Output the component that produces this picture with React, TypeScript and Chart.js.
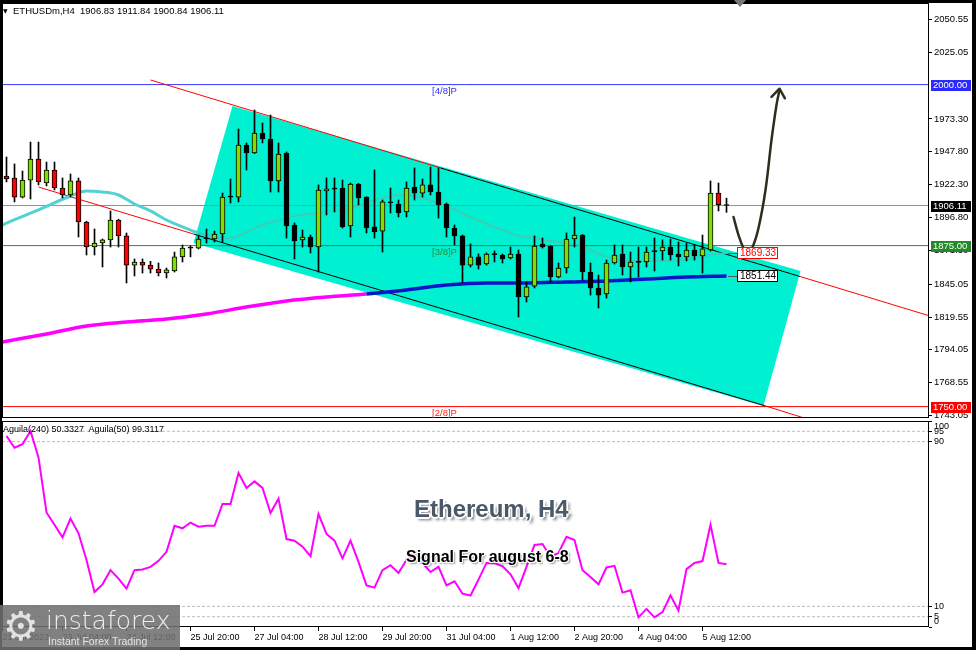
import { useEffect, useRef } from "react";
import { Chart, registerables } from "chart.js";

Chart.register(...registerables);

// ---------------- data ----------------
const openP = [
  1929.0, 1927.5, 1912.7, 1925.9, 1942.2, 1923.6, 1933.7, 1919.7, 1914.3, 1925.2,
  1893.3, 1873.9, 1877.0, 1879.4, 1894.9, 1882.5, 1859.9, 1862.3, 1859.9, 1856.8,
  1853.7, 1855.3, 1866.2, 1873.1, 1873.1, 1880.8, 1880.1, 1884.0, 1913.0, 1912.7,
  1953.1, 1946.9, 1962.4, 1957.8, 1925.2, 1946.9, 1891.0, 1879.4, 1881.7, 1873.9,
  1917.4, 1919.2, 1919.7, 1890.2, 1922.8, 1912.7, 1889.5, 1886.3, 1908.9, 1907.3,
  1901.1, 1920.5, 1915.8, 1922.1, 1916.6, 1907.3, 1888.7, 1882.5, 1859.9, 1866.2,
  1860.7, 1868.5, 1867.7, 1865.4, 1868.5, 1835.1, 1843.6, 1876.2, 1874.7, 1850.6,
  1857.6, 1880.1, 1883.2, 1854.5, 1842.1, 1837.4, 1861.5, 1868.5, 1858.4, 1862.5,
  1862.3, 1870.8, 1870.8, 1873.9, 1868.5, 1866.2, 1871.6, 1866.9, 1871.6, 1915.8,
  1906.83,
];
const highP = [
  1943.8, 1938.4, 1932.9, 1955.4, 1955.4, 1939.9, 1939.9, 1927.5, 1930.6, 1927.5,
  1893.9, 1887.9, 1880.1, 1901.9, 1895.5, 1884.8, 1864.6, 1864.6, 1862.8, 1861.5,
  1857.6, 1870.0, 1875.5, 1874.7, 1883.2, 1887.9, 1886.3, 1915.8, 1926.7, 1965.5,
  1954.7, 1980.3, 1970.2, 1976.4, 1954.7, 1947.7, 1892.6, 1887.1, 1883.2, 1922.1,
  1927.5, 1927.5, 1925.9, 1923.6, 1923.3, 1913.0, 1933.7, 1910.4, 1919.7, 1910.4,
  1924.4, 1935.3, 1926.7, 1936.0, 1935.3, 1908.1, 1891.0, 1883.2, 1876.3, 1868.5,
  1869.3, 1870.8, 1868.5, 1873.9, 1871.6, 1846.8, 1882.5, 1880.9, 1875.0, 1861.5,
  1884.8, 1897.2, 1883.6, 1861.5, 1852.2, 1863.8, 1875.5, 1875.5, 1870.0, 1873.9,
  1873.9, 1880.9, 1879.4, 1880.1, 1877.8, 1877.0, 1875.5, 1883.2, 1925.2, 1923.6,
  1911.84,
];
const lowP = [
  1924.4, 1908.9, 1912.0, 1911.2, 1922.1, 1921.3, 1918.2, 1912.0, 1912.7, 1881.7,
  1867.7, 1867.7, 1858.4, 1873.9, 1873.9, 1846.0, 1851.4, 1853.7, 1853.7, 1851.4,
  1849.9, 1854.5, 1862.3, 1866.2, 1872.4, 1877.0, 1877.8, 1877.8, 1908.1, 1908.9,
  1933.7, 1946.5, 1954.7, 1916.6, 1916.6, 1880.9, 1864.6, 1873.9, 1869.3, 1854.5,
  1898.8, 1901.1, 1888.7, 1881.7, 1906.5, 1884.8, 1880.9, 1870.0, 1900.3, 1897.2,
  1897.2, 1910.4, 1912.7, 1914.3, 1896.4, 1881.7, 1875.5, 1846.0, 1858.4, 1856.8,
  1859.9, 1862.3, 1861.5, 1864.6, 1819.6, 1831.2, 1842.1, 1873.1, 1846.8, 1849.9,
  1853.7, 1873.9, 1848.3, 1836.6, 1826.6, 1834.3, 1860.7, 1852.2, 1846.8, 1850.6,
  1858.4, 1855.3, 1863.8, 1863.8, 1859.2, 1863.1, 1863.8, 1853.7, 1870.8, 1901.9,
  1900.84,
];
const closeP = [
  1926.7, 1912.7, 1925.9, 1942.2, 1924.4, 1933.7, 1919.7, 1914.3, 1925.2, 1893.3,
  1873.9, 1877.0, 1879.4, 1894.9, 1882.5, 1859.9, 1862.3, 1859.9, 1856.8, 1853.7,
  1856.1, 1866.2, 1873.1, 1873.1, 1880.1, 1880.1, 1884.0, 1912.7, 1912.7, 1953.1,
  1946.9, 1962.4, 1957.8, 1925.2, 1946.1, 1890.2, 1878.6, 1881.7, 1873.9, 1918.2,
  1919.0, 1918.8, 1889.5, 1922.8, 1912.0, 1888.7, 1885.6, 1908.9, 1908.1, 1900.3,
  1919.7, 1915.8, 1922.1, 1916.6, 1906.5, 1888.7, 1882.5, 1859.9, 1866.2, 1859.9,
  1868.5, 1868.0, 1864.6, 1868.5, 1835.1, 1842.9, 1874.7, 1873.9, 1850.6, 1857.6,
  1880.1, 1883.2, 1854.5, 1842.1, 1836.6, 1861.5, 1867.7, 1858.4, 1862.3, 1862.0,
  1870.0, 1870.3, 1873.9, 1867.7, 1866.2, 1871.6, 1866.9, 1872.4, 1915.8, 1906.8,
  1906.11,
];

// moving averages (bar index, price)
const maFastX = [-0.5, 0, 4, 8, 10, 12, 14, 16, 18, 20, 22, 24, 26, 28, 30, 32, 34, 36, 38, 40, 42, 44,
  46, 48, 50, 52, 54, 56, 58, 60, 62, 64, 66, 68, 70, 72, 74, 76, 78, 80, 82, 84, 86, 88, 90];
const maFastY = [1891.0, 1892.5, 1902.7, 1913.5, 1917.4, 1916.6, 1914.3, 1907.3, 1901.9, 1894.9, 1889.5,
  1884.8, 1881.7, 1880.9, 1885.6, 1891.0, 1894.9, 1898.0, 1899.5, 1901.1, 1902.7, 1905.8, 1910.4, 1913.5,
  1914.3, 1912.0, 1908.1, 1902.7, 1897.2, 1891.8, 1887.1, 1882.5, 1880.9, 1878.6, 1877.0, 1874.7, 1868.5,
  1864.6, 1863.1, 1863.1, 1863.1, 1863.8, 1865.4, 1867.7, 1869.33];
const maSlowX = [-0.5, 5, 10, 15, 20, 25, 30, 35, 40, 45, 50, 55, 60, 65, 70, 75, 80, 85, 90];
const maSlowY = [1800.2, 1806.4, 1812.6, 1815.7, 1818.0, 1821.9, 1827.3, 1832.0, 1835.1, 1837.4, 1840.5,
  1844.4, 1846.0, 1846.0, 1846.8, 1847.5, 1849.1, 1850.6, 1851.44];

// Aguila indicator, one value per bar
const aguila = [
  92.7, 87.0, 88.7, 95.2, 82.3, 55.6, 49.6, 43.5, 52.6, 45.5,
  32.5, 17.0, 20.7, 27.6, 23.5, 18.6, 27.6, 27.9, 29.2, 32.1,
  36.5, 49.1, 47.9, 50.7, 48.7, 49.1, 49.1, 59.7, 59.7, 74.8,
  67.5, 70.7, 67.5, 55.3, 62.3, 42.7, 41.9, 39.0, 34.4, 54.8,
  45.2, 41.9, 33.3, 41.9, 31.6, 20.2, 19.1, 27.6, 30.0, 26.2,
  32.5, 34.9, 31.0, 26.7, 29.2, 20.2, 22.2, 16.2, 15.3, 23.0,
  31.1, 31.0, 29.5, 25.6, 18.9, 29.2, 39.8, 40.3, 34.1, 35.9,
  43.8, 42.2, 27.6, 24.3, 20.7, 28.9, 29.7, 16.7, 17.8, 4.7,
  8.8, 4.7, 7.2, 15.3, 8.0, 28.1, 31.1, 32.0, 49.6, 31.1, 30.5,
];

// channel (bar index, price)
const channelFill = [
  { x: 28.25, y: 1983.4 }, { x: 99.25, y: 1855.3 }, { x: 94.625, y: 1750.5 }, { x: 23.375, y: 1877.0 }, { x: 28.25, y: 1983.4 },
];
const upperLine = [{ x: 18, y: 2003.6 }, { x: 54.25, y: 1935.3 }, { x: 99.25, y: 1850.9 }, { x: 115.3, y: 1820.6 }];
const upperLineColors = ["#ff0000", "#000000", "#ff0000"];
const lowerLine = [{ x: 4, y: 1920.5 }, { x: 23.375, y: 1884.0 }, { x: 94.875, y: 1750.5 }, { x: 103, y: 1734.8 }];
const lowerLineColors = ["#ff0000", "#000000", "#ff0000"];

// projected arrow (bar index, price)
const arrowPath = [
  { x: 90.875, y: 1897.2 }, { x: 91.5, y: 1883.2 }, { x: 92.125, y: 1873.1 }, { x: 92.625, y: 1870.0 },
  { x: 93.25, y: 1873.9 }, { x: 94.0, y: 1888.7 }, { x: 94.875, y: 1918.2 }, { x: 95.625, y: 1957.0 },
  { x: 96.25, y: 1984.2 }, { x: 96.625, y: 1995.8 },
];
const arrowHead = [{ x: 95.625, y: 1990.4 }, { x: 96.625, y: 1996.8 }, { x: 97.3, y: 1989.4 }];

// horizontal levels
const levelValues = [2000, 1906.11, 1875, 1750];
const levelColors = ["#3636ff", "#8494a4", "#2e8b2e", "#ff0000"];
const levelTagText = ["2000.00", "1906.11", "1875.00", "1750.00"];
const levelTagBg = ["#2a2aff", "#000000", "#23892a", "#ff0000"];
const murreyLabels = ["[4/8]P", "[3/8]P", "[2/8]P"];
const murreyValues = [2000, 1875, 1750];
const murreyColors = ["#3030ff", "#2e8b2e", "#ff2020"];

const yTicks = [2050.55, 2025.05, 1973.3, 1947.8, 1922.3, 1896.8, 1871.3, 1845.05, 1819.55, 1794.05, 1768.55, 1743.05];
const xTickBars = [-0.5, 7, 15, 23, 31, 39, 47, 55, 63, 71, 79, 87];
const xTickLabels = ["21 Jul 2023", "23 Jul 04:00", "24 Jul 12:00", "25 Jul 20:00", "27 Jul 04:00", "28 Jul 12:00",
  "29 Jul 20:00", "31 Jul 04:00", "1 Aug 12:00", "2 Aug 20:00", "4 Aug 04:00", "5 Aug 12:00"];
const indTicks = [0, 5, 10, 90, 95, 100];
const indLevels = [5, 10, 90, 95];

const valueTags = [
  { value: 1869.33, text: "1869.33", color: "#ff0000" },
  { value: 1851.44, text: "1851.44", color: "#000000" },
];

// ---------------- style ----------------
const X_MIN = -0.5625;
const X_MAX = 115.3125;
const Y_MIN = 1741.15;
const Y_MAX = 2063.36;
const CHANNEL_FIRST = 23;
const CHANNEL_LAST = 88;
const FAST_IN_FROM = 24;
const SLOW_IN_FROM = 45;
const LAST_BAR = 90;
const LABEL_BAR = 53.2;
const GREEN = "#7ee000";
const RED = "#ff0000";
const CYAN = "#00f0d2";
const FONT = '"Liberation Sans", Arial, sans-serif';

Chart.defaults.font.family = FONT;
Chart.defaults.font.size = 9;
Chart.defaults.color = "#000";

const bars = openP.map((_, i) => i);

function bodyColor(i: number) {
  const d = closeP[i] - openP[i];
  if (Math.abs(d) < 0.8) return "#000000";
  if (d > 0) return GREEN;
  return i >= CHANNEL_FIRST && i <= CHANNEL_LAST ? "#000000" : RED;
}

function hLine(v: number) {
  return [{ x: X_MIN, y: v }, { x: X_MAX, y: v }];
}

const mainOverlay = {
  id: "mainOverlay",
  afterDraw(chart: any) {
    const { ctx, chartArea: a, scales } = chart;
    const x = scales.x;
    const y = scales.y;
    ctx.save();
    ctx.strokeStyle = "#000";
    ctx.lineWidth = 1;
    ctx.strokeRect(a.left + 0.5, a.top + 0.5, a.right - a.left - 1, a.bottom - a.top - 1);

    ctx.font = `9.5px ${FONT}`;
    ctx.textBaseline = "middle";
    ctx.textAlign = "left";
    murreyLabels.forEach((t, k) => {
      ctx.fillStyle = murreyColors[k];
      ctx.fillText(t, x.getPixelForValue(LABEL_BAR), y.getPixelForValue(murreyValues[k]) + 7);
    });

    // value tags at the end of the moving averages
    const px = Math.round(x.getPixelForValue(LAST_BAR));
    ctx.font = `10px ${FONT}`;
    valueTags.forEach((t) => {
      const py = Math.round(y.getPixelForValue(t.value));
      ctx.strokeStyle = "#555";
      ctx.beginPath();
      ctx.moveTo(px + 1, py + 0.5);
      ctx.lineTo(px + 10, py + 0.5);
      ctx.stroke();
      ctx.fillStyle = "#fff";
      ctx.fillRect(px + 10, py - 6, 41, 12);
      ctx.strokeStyle = t.color;
      ctx.strokeRect(px + 10.5, py - 5.5, 40, 11);
      ctx.fillStyle = t.color;
      ctx.fillText(t.text, px + 13, py + 0.5);
    });

    // price tags on the axis
    ctx.font = `9.5px ${FONT}`;
    levelValues.forEach((v, k) => {
      const py = Math.round(y.getPixelForValue(v));
      ctx.fillStyle = levelTagBg[k];
      ctx.fillRect(a.right + 2, py - 5, 40, 11);
      ctx.fillStyle = "#fff";
      ctx.fillText(levelTagText[k], a.right + 4, py + 0.5);
    });
    ctx.restore();
  },
};

const indOverlay = {
  id: "indOverlay",
  afterDraw(chart: any) {
    const { ctx, chartArea: a, scales } = chart;
    const y = scales.y;
    ctx.save();
    ctx.strokeStyle = "#000";
    ctx.lineWidth = 1;
    ctx.strokeRect(a.left + 0.5, a.top + 0.5, a.right - a.left - 1, a.bottom - a.top - 1);
    ctx.font = `9px ${FONT}`;
    ctx.fillStyle = "#000";
    ctx.textBaseline = "middle";
    ctx.textAlign = "left";
    ctx.fillText("100", a.right + 5, y.getPixelForValue(100) + 6);
    ctx.fillText("0", a.right + 5, y.getPixelForValue(0) - 5);
    ctx.restore();
  },
};

function mainConfig(): any {
  const lineBase = { type: "line", pointRadius: 0, borderWidth: 1, fill: false, tension: 0 };
  const datasets: any[] = [
    {
      ...lineBase, data: channelFill, fill: "shape", backgroundColor: CYAN, borderWidth: 0,
      borderColor: "rgba(0,0,0,0)", order: 20,
    },
    ...levelValues.map((v, k) => ({ ...lineBase, data: hLine(v), borderColor: levelColors[k], order: 15 })),
    {
      ...lineBase, data: upperLine, borderColor: "#ff0000", order: 14,
      segment: { borderColor: (c: any) => upperLineColors[c.p0DataIndex] },
    },
    {
      ...lineBase, data: lowerLine, borderColor: "#ff0000", order: 14,
      segment: { borderColor: (c: any) => lowerLineColors[c.p0DataIndex] },
    },
    {
      ...lineBase, data: maFastX.map((x, i) => ({ x, y: maFastY[i] })), borderWidth: 3,
      cubicInterpolationMode: "monotone", borderColor: "#52d2d2", order: 12,
      segment: {
        borderColor: (c: any) => (maFastX[c.p0DataIndex] >= FAST_IN_FROM ? "#3ccdb4" : "#52d2d2"),
        borderWidth: (c: any) => (maFastX[c.p0DataIndex] >= FAST_IN_FROM ? 2 : 3),
      },
    },
    {
      ...lineBase, data: maSlowX.map((x, i) => ({ x, y: maSlowY[i] })), borderWidth: 3.5,
      cubicInterpolationMode: "monotone", borderColor: "#ff00ff", order: 11,
      segment: { borderColor: (c: any) => (maSlowX[c.p0DataIndex] >= SLOW_IN_FROM ? "#0a14c8" : "#ff00ff") },
    },
    {
      type: "bar", data: bars.map((i) => ({ x: i, y: [lowP[i], highP[i]] })), backgroundColor: "#000",
      borderWidth: 0, barThickness: 1, grouped: false, order: 6,
    },
    {
      type: "bar", data: bars.map((i) => ({ x: i, y: [openP[i], closeP[i]] })),
      backgroundColor: bars.map((i) => bodyColor(i)), borderColor: "#000", borderWidth: 1,
      borderSkipped: false, barThickness: 5, grouped: false, minBarLength: 1, order: 5,
    },
    {
      ...lineBase, data: arrowPath, borderColor: "#2e2e1e", borderWidth: 2.5, tension: 0.4,
      borderCapStyle: "round", order: 1,
    },
    {
      ...lineBase, data: arrowHead, borderColor: "#2e2e1e", borderWidth: 2.5, borderCapStyle: "round",
      borderJoinStyle: "round", order: 1,
    },
  ];
  return {
    type: "bar",
    data: { datasets },
    options: {
      responsive: false, animation: false, devicePixelRatio: 1, events: [],
      layout: { padding: { left: 2, top: 3, bottom: 2, right: 0 } },
      plugins: { legend: { display: false }, tooltip: { enabled: false } },
      scales: {
        x: { type: "linear", display: false, min: X_MIN, max: X_MAX, offset: false, grid: { offset: false } },
        y: {
          type: "linear", position: "right", min: Y_MIN, max: Y_MAX, beginAtZero: false,
          afterBuildTicks: (s: any) => { s.ticks = yTicks.map((v) => ({ value: v })); },
          afterFit: (s: any) => { s.width = 47; s.paddingTop = 0; s.paddingBottom = 0; },
          ticks: { callback: (v: any) => Number(v).toFixed(2), color: "#000", padding: 2, autoSkip: false, font: { size: 9.5 } },
          grid: { display: true, drawOnChartArea: false, drawTicks: true, tickLength: 3, tickColor: "#000", color: "#000" },
          border: { display: false },
        },
      },
    },
    plugins: [mainOverlay],
  };
}

function indConfig(): any {
  const datasets: any[] = [
    ...indLevels.map((v) => ({
      type: "line", data: hLine(v), borderColor: "#bdbdbd", borderWidth: 1, borderDash: [3, 2],
      pointRadius: 0, fill: false, order: 5,
    })),
    {
      type: "line", data: bars.map((i) => ({ x: i, y: aguila[i] })), borderColor: "#ff00ff", borderWidth: 2,
      pointRadius: 0, fill: false, tension: 0, order: 1,
    },
  ];
  return {
    type: "line",
    data: { datasets },
    options: {
      responsive: false, animation: false, devicePixelRatio: 1, events: [],
      layout: { padding: { left: 2, top: 11, bottom: 0, right: 0 } },
      plugins: { legend: { display: false }, tooltip: { enabled: false } },
      scales: {
        x: {
          type: "linear", min: X_MIN, max: X_MAX, offset: false, bounds: "data",
          afterBuildTicks: (s: any) => { s.ticks = xTickBars.map((v) => ({ value: v })); },
          afterFit: (s: any) => { s.height = 23; s.paddingLeft = 0; s.paddingRight = 0; },
          ticks: {
            callback: (_v: any, i: number) => xTickLabels[i], align: "start", autoSkip: false,
            maxRotation: 0, minRotation: 0, padding: 1, color: "#000", font: { size: 9 },
          },
          grid: { display: true, drawOnChartArea: false, drawTicks: true, tickLength: 4, tickColor: "#000", offset: false },
          border: { display: false },
        },
        y: {
          type: "linear", position: "right", min: 0, max: 100,
          afterBuildTicks: (s: any) => { s.ticks = indTicks.map((v) => ({ value: v })); },
          afterFit: (s: any) => { s.width = 47; s.paddingTop = 0; s.paddingBottom = 0; },
          ticks: { callback: (v: any) => (v === 0 || v === 100 ? "" : String(v)), color: "#000", padding: 2, autoSkip: false, font: { size: 9 } },
          grid: { display: true, drawOnChartArea: false, drawTicks: true, tickLength: 3, tickColor: "#000", color: "#000" },
          border: { display: false },
        },
      },
    },
    plugins: [indOverlay],
  };
}

export default function App() {
  const mainRef = useRef<HTMLCanvasElement>(null);
  const indRef = useRef<HTMLCanvasElement>(null);

  useEffect(() => {
    const c1 = new Chart(mainRef.current as HTMLCanvasElement, mainConfig());
    const c2 = new Chart(indRef.current as HTMLCanvasElement, indConfig());
    return () => {
      c1.destroy();
      c2.destroy();
    };
  }, []);

  const abs: any = { position: "absolute" };
  return (
    <div style={{ position: "absolute", left: 0, top: 0, width: 976, height: 650, background: "#fff", overflow: "hidden", fontFamily: FONT }}>
      <canvas ref={mainRef} width={976} height={420} style={{ ...abs, left: 0, top: 0 }} />
      <canvas ref={indRef} width={976} height={240} style={{ ...abs, left: 0, top: 410 }} />

      <div style={{ ...abs, left: 3, top: 5, fontSize: 6, lineHeight: "12px", fontFamily: "DejaVu Sans" }}>▼</div>
      <div style={{ ...abs, left: 13, top: 5, fontSize: 9.5, lineHeight: "12px", whiteSpace: "pre", color: "#000" }}>
        {"ETHUSDm,H4  1906.83 1911.84 1900.84 1906.11"}
      </div>
      <div style={{ ...abs, left: 3, top: 423, fontSize: 9, lineHeight: "12px", whiteSpace: "pre", color: "#000" }}>
        {"Aguila(240) 50.3327  Aguila(50) 99.3117"}
      </div>

      <div
        style={{
          ...abs, left: 414, top: 495, fontSize: 24, lineHeight: "28px", fontWeight: "bold", color: "#4a5968", whiteSpace: "pre",
          textShadow: "-1px -1px 0 #fff, 1px -1px 0 #fff, -1px 1px 0 #fff, 1px 1px 0 #fff, 0 2px 0 #fff, 2px 0 0 #fff, 3px 3px 3px rgba(0,0,0,0.55)",
        }}
      >
        Ethereum, H4
      </div>
      <div
        style={{
          ...abs, left: 406, top: 547, fontSize: 16, lineHeight: "20px", fontWeight: "bold", color: "#000", whiteSpace: "pre",
          textShadow: "-1px -1px 0 #fff, 1px -1px 0 #fff, -1px 1px 0 #fff, 1px 1px 0 #fff, 2px 2px 2px rgba(0,0,0,0.45)",
        }}
      >
        Signal For august 6-8
      </div>

      <div style={{ ...abs, left: 734, top: 0, width: 0, height: 0, borderLeft: "6px solid transparent", borderRight: "6px solid transparent", borderTop: "7px solid #777", zIndex: 3 }} />

      {/* black frame of the picture */}
      <div style={{ ...abs, left: 0, top: 0, width: 976, height: 3, background: "#000", zIndex: 2 }} />
      <div style={{ ...abs, left: 0, top: 0, width: 2, height: 650, background: "#000", zIndex: 2 }} />
      <div style={{ ...abs, left: 972, top: 0, width: 4, height: 650, background: "#000", zIndex: 2 }} />
      <div style={{ ...abs, left: 0, top: 647, width: 976, height: 3, background: "#000", zIndex: 2 }} />

      {/* logo */}
      <div style={{ ...abs, left: 0, top: 605, width: 180, height: 45, background: "rgba(112,112,112,0.88)", zIndex: 4 }}>
        <div style={{ ...abs, left: 3, top: -2, fontSize: 40, lineHeight: "46px", color: "#e2e2e2", fontFamily: "DejaVu Sans" }}>⚙</div>
        <div style={{ ...abs, left: 46, top: 1, fontSize: 25, lineHeight: "30px", color: "#eeeeee", fontFamily: "DejaVu Sans", fontWeight: 200 }}>instaforex</div>
        <div style={{ ...abs, left: 48, top: 30, fontSize: 10.5, lineHeight: "13px", color: "#e4e4e4" }}>Instant Forex Trading</div>
      </div>
    </div>
  );
}
